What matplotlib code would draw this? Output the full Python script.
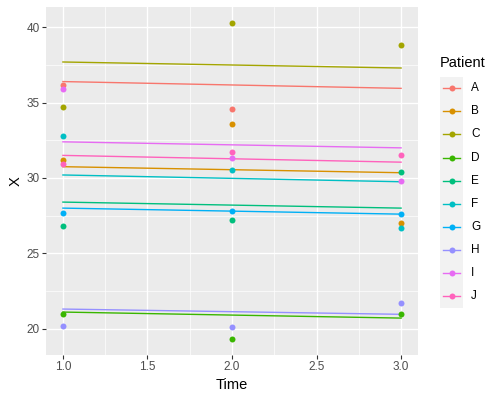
import matplotlib.pyplot as plt
from matplotlib.lines import Line2D
from matplotlib.patches import Rectangle

plt.rcParams['font.family'] = ['Liberation Sans', 'DejaVu Sans']

patients = ["A", "B", "C", "D", "E", "F", "G", "H", "I", "J"]
colors = ["#F8766D", "#D89000", "#A3A500", "#39B600", "#00BF7D",
          "#00BFC4", "#00B0F6", "#9590FF", "#E76BF3", "#FF62BC"]

# observed values at time 1, 2, 3 (None = missing)
obs_t1 = [36.2, 31.2, 34.7, 21.0, 26.8, 32.8, 27.7, 20.2, 35.9, 30.9]
obs_t2 = [34.6, 33.6, 40.3, 19.3, 27.2, 30.5, 27.8, 20.1, 31.3, 31.7]
obs_t3 = [None, 27.0, 38.8, 21.0, 30.4, 26.7, 27.6, 21.7, 29.8, 31.5]

# fitted lines: value at time 1 and time 3
fit_t1 = [36.4, 30.75, 37.7, 21.1, 28.4, 30.2, 28.0, 21.3, 32.4, 31.5]
fit_t3 = [35.95, 30.35, 37.3, 20.7, 28.0, 29.75, 27.6, 20.95, 32.0, 31.05]

times = [1, 2, 3]

fig = plt.figure(figsize=(5, 4), dpi=100)
ax = fig.add_axes([46 / 500, 1 - 355 / 400, 372 / 500, 348 / 400])
ax.set_facecolor("#EBEBEB")

for i, p in enumerate(patients):
    ax.plot([1, 3], [fit_t1[i], fit_t3[i]], color=colors[i], lw=1.0, zorder=3)
    vals = [obs_t1[i], obs_t2[i], obs_t3[i]]
    xs = [t for t, v in zip(times, vals) if v is not None]
    ys = [v for v in vals if v is not None]
    ax.plot(xs, ys, "o", color=colors[i], ms=4.3, mec="none", zorder=4)

ax.set_xlim(0.9, 3.1)
ax.set_ylim(18.25, 41.35)
ax.set_xticks([1.0, 1.5, 2.0, 2.5, 3.0])
ax.set_xticklabels(["1.0", "1.5", "2.0", "2.5", "3.0"])
ax.set_yticks([20, 25, 30, 35, 40])
ax.set_xticks([1.25, 1.75, 2.25, 2.75], minor=True)
ax.set_yticks([22.5, 27.5, 32.5, 37.5], minor=True)
ax.grid(True, which="major", color="white", lw=1.0)
ax.grid(True, which="minor", color="white", lw=0.5)
ax.set_axisbelow(True)
for s in ax.spines.values():
    s.set_visible(False)
ax.tick_params(which="major", length=2.6, width=0.8, color="#333333",
               labelsize=8.5, labelcolor="#4D4D4D", pad=2)
ax.tick_params(which="minor", length=0)
ax.set_xlabel("Time", fontsize=10.5, labelpad=3)
ax.set_ylabel("X", fontsize=10.5, labelpad=3)

# legend
fig.text(440 / 500, 1 - 63 / 400, "Patient", fontsize=10.5, va="center", ha="left")
fig.patches.append(Rectangle((440 / 500, 1 - 308 / 400), 23 / 500, 231 / 400,
                             transform=fig.transFigure, facecolor="#F2F2F2",
                             edgecolor="none"))
for i, p in enumerate(patients):
    yc = 1 - (88.3 + i * 23.08) / 400
    fig.add_artist(Line2D([443 / 500, 460 / 500], [yc, yc], color=colors[i],
                          lw=1.0, transform=fig.transFigure))
    fig.add_artist(Line2D([451.5 / 500], [yc], marker="o", ms=4.3, mec="none",
                          color=colors[i], transform=fig.transFigure))
    fig.text(471 / 500, yc, p, fontsize=8.5, va="center", ha="left")

fig.savefig("out.png", dpi=100)
